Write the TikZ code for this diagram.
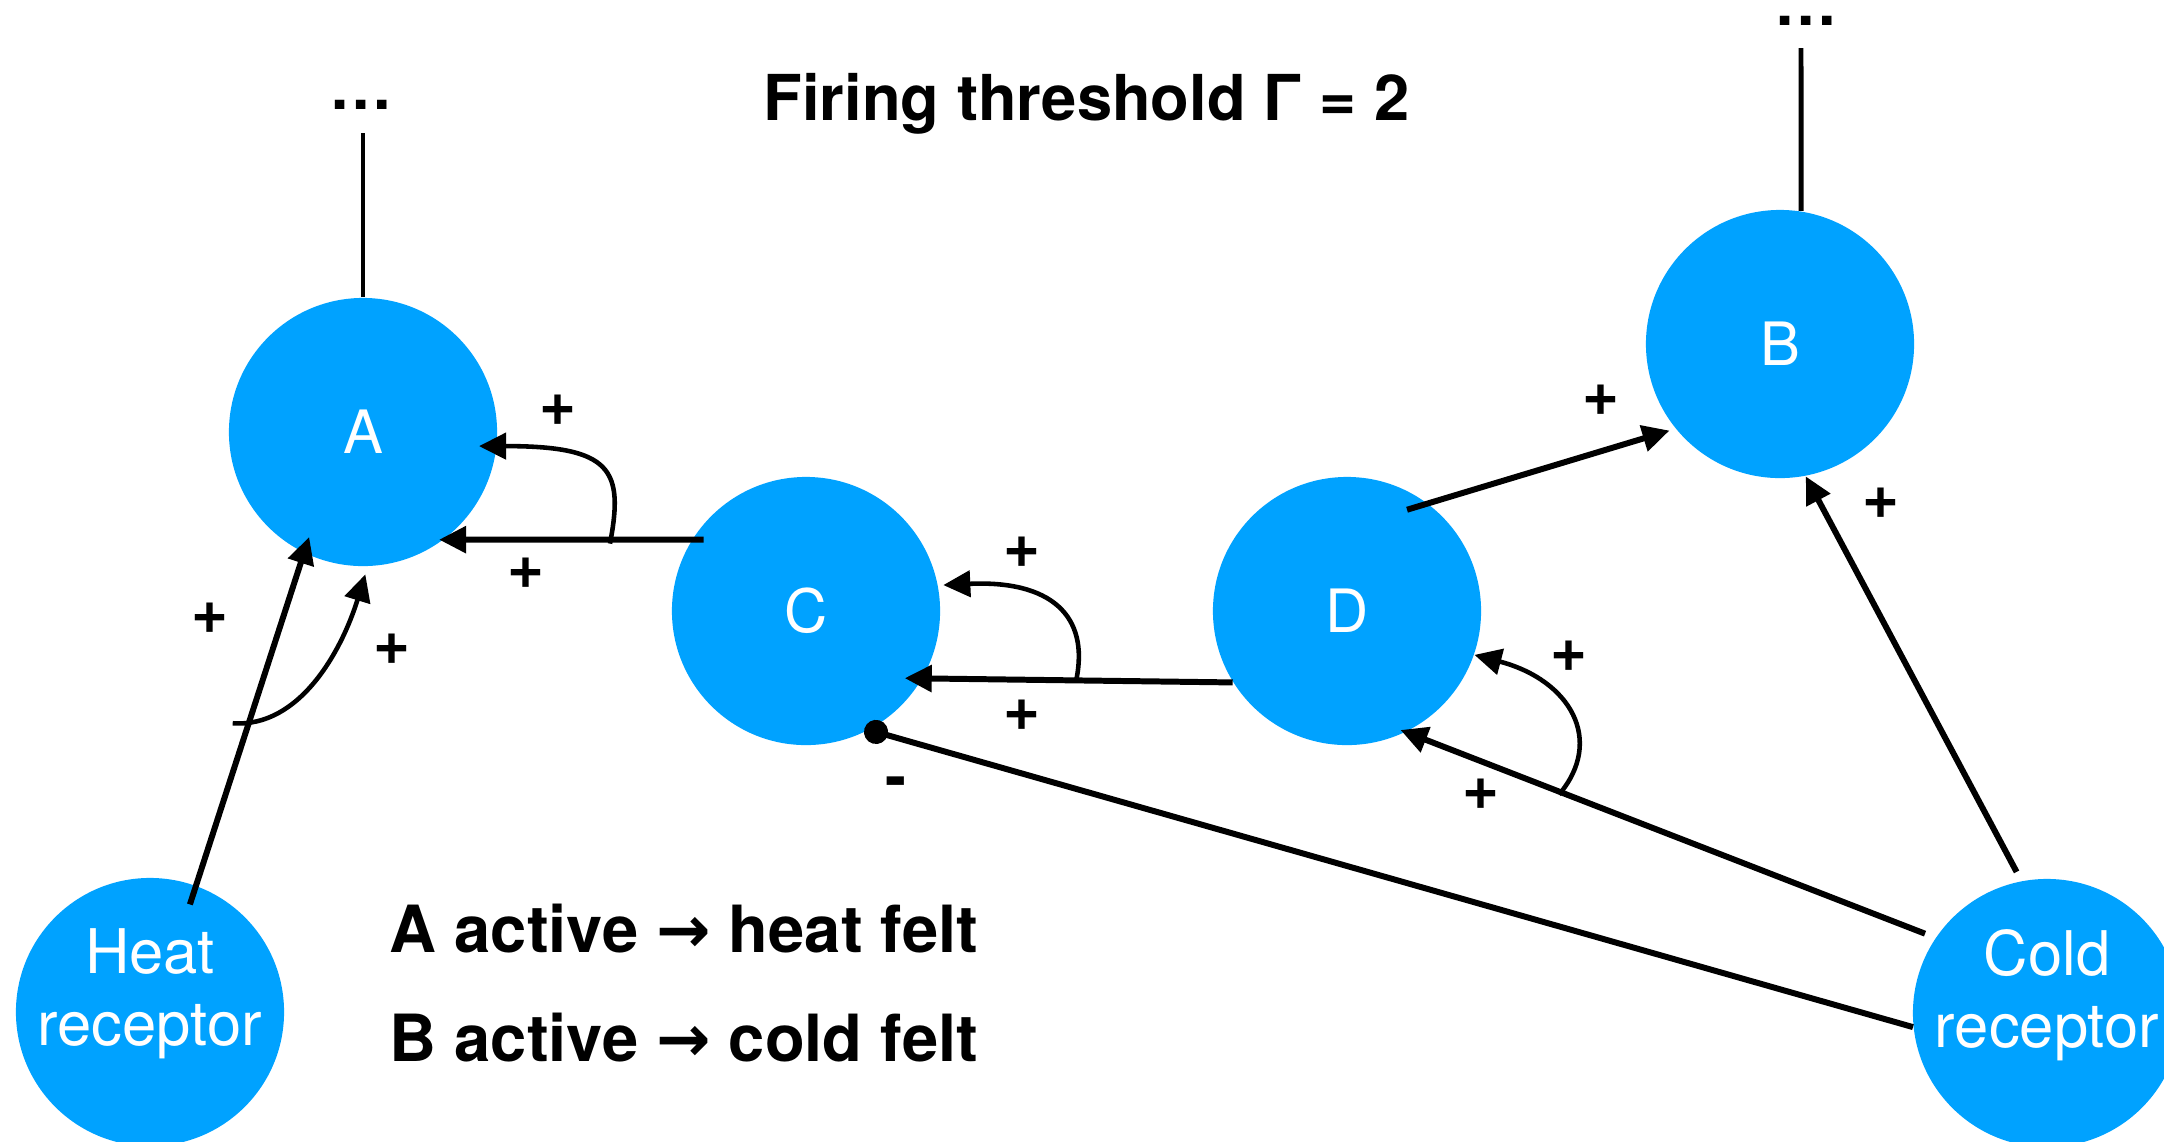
\documentclass[tikz,border=0pt]{standalone}
\usepackage{fontspec}
\setmainfont{TeX Gyre Heros}
\newfontfamily\arrowfont{DejaVu Sans}
\usetikzlibrary{arrows.meta}
\definecolor{cellblue}{RGB}{0,162,255}

\begin{document}
\begin{tikzpicture}[x=0.01cm,y=-0.01cm,
  neuron/.style={circle,fill=cellblue,draw=none,inner sep=0pt,minimum size=2.68cm,
    text=white,font=\fontsize{17}{20.5}\selectfont},
  inner/.style={text=white,align=center,font=\fontsize{17.5}{20.5}\selectfont,yshift=0.18cm},
  link/.style={line width=1.7pt,-{Triangle[length=0.27cm,width=0.26cm]}},
  modlink/.style={line width=1.3pt,-{Triangle[length=0.27cm,width=0.26cm]}},
  inhib/.style={line width=1.7pt,-{Circle[length=0.24cm]}},
  axon/.style={line width=1.4pt},
  bigtext/.style={font=\bfseries\fontsize{18}{21}\selectfont,inner sep=0pt},
  legendtext/.style={font=\bfseries\fontsize{18.5}{21}\selectfont,inner sep=0pt},
  sign/.style={font=\bfseries\fontsize{18}{21}\selectfont,inner sep=0pt},
]
% canvas
\fill[white] (0,0) rectangle (2164,1141);
\useasboundingbox (0,0) rectangle (2164,1141);
\clip (0,0) rectangle (2164,1141);

% title and legend
\node[bigtext,anchor=base west] (title) at (763,120) {Firing threshold Γ = 2};
\node[legendtext,anchor=base west] (leg1) at (389,952) {A active {\arrowfont →} heat felt};
\node[legendtext,anchor=base west] (leg2) at (389,1061) {B active {\arrowfont →} cold felt};

% neurons
\node[neuron] (A) at (363,432) {A};
\node[neuron] (B) at (1780,344) {B};
\node[neuron] (C) at (806,611) {C};
\node[neuron] (D) at (1347,611) {D};
\node[neuron,label={[inner]center:Heat\\receptor}] (H) at (150,1012) {};
\node[neuron,label={[inner]center:Cold\\receptor}] (K) at (2047,1013) {};

% outputs continuing upward
\node[bigtext,anchor=base] (adots) at (361,109) {…};
\node[bigtext,anchor=base] (bdots) at (1806,25) {…};
\coordinate (atop) at (363,133);
\coordinate (btop) at (1801,48);
\draw[axon] (A.north) -- (atop);
\draw[axon] (B.81) -- (btop);

% C -> A with its modulating branch
\draw[link,shorten <=-0.12cm,shorten >=-0.05cm] (C.148) -- coordinate[pos=0.33] (ca) (A.-53);
\draw[modlink,shorten >=-0.18cm] ([yshift=-0.04cm]ca) .. controls (624,470) and (612,446) .. (A.-6);

% heat receptor -> A with its modulating branch
\draw[link,shorten <=-0.2cm,shorten >=-0.17cm] (H.70) -- coordinate[pos=0.488] (ha) (A.244);
\draw[modlink,shorten >=0.08cm] ([xshift=-0.16cm]ha) .. controls (300,728) and (342,650) .. (A.-88);

% D -> C with its modulating branch
\draw[link,shorten >=-0.18cm] (D.212) -- coordinate[pos=0.505] (dc) (C.-30);
\draw[modlink,shorten >=0.05cm] (dc) .. controls (1090,615) and (1050,580) .. (C.11);

% cold receptor inhibits C
\draw[inhib,shorten >=-0.05cm] (K.186) -- (C.-62);

% cold receptor -> D with its modulating branch
\draw[link,shorten <=0.11cm,shorten >=-0.06cm] (K.146) -- coordinate[pos=0.711] (kd) (D.-64);
\draw[modlink] ([yshift=-0.03cm]kd) .. controls (1605,740) and (1570,680) .. (D.-19);

% inputs to B
\draw[link,shorten <=0.1cm] (K.101) -- (B.-79);
\draw[link,shorten <=-0.22cm,shorten >=0.06cm] (D.53) -- (B.219);

% synapse signs
\node[sign] (s1) at (558,410) {+};
\node[sign] (s2) at (526,573) {+};
\node[sign] (s3) at (210,618) {+};
\node[sign] (s4) at (392,649) {+};
\node[sign] (s5) at (1022,552) {+};
\node[sign] (s6) at (1022,715) {+};
\node[sign] (s7) at (896,788) {-};
\node[sign] (s8) at (1481,794) {+};
\node[sign] (s9) at (1569,656) {+};
\node[sign] (s10) at (1601,400) {+};
\node[sign] (s11) at (1881,503) {+};
\end{tikzpicture}
\end{document}
